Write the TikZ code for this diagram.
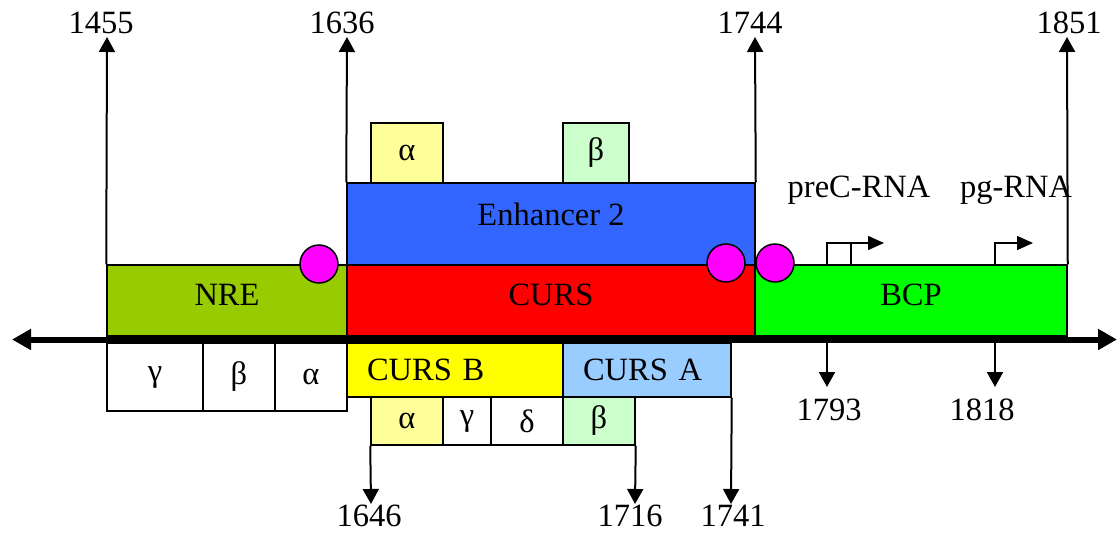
\documentclass[tikz,border=0pt]{standalone}
\usepackage{fontspec}
\setmainfont{Liberation Serif}
\usetikzlibrary{arrows.meta}
\definecolor{nregreen}{HTML}{99CC00}
\definecolor{enhblue}{HTML}{3366FF}
\definecolor{bcpgreen}{HTML}{00FF00}
\definecolor{paleyellow}{HTML}{FFFF99}
\definecolor{palegreen}{HTML}{CCFFCC}
\definecolor{cursbyellow}{HTML}{FFFF00}
\definecolor{cursablue}{HTML}{99CCFF}
\definecolor{sitemagenta}{HTML}{FF00FF}
\tikzset{
  regbox/.style={draw=black, line width=1.5pt, inner sep=0pt, rectangle},
  raised/.style={text height=22pt, text depth=#1},
  lbox/.style={regbox, inner xsep=20pt, align=left},
  site/.style={circle, draw=black, line width=1.5pt, fill=sitemagenta, minimum size=38pt, inner sep=0pt},
  num/.style={inner sep=0pt},
  posarrow/.style={line width=2pt, -{Triangle[length=15pt,width=16pt]}},
  tssarrow/.style={line width=1.5pt, -{Triangle[length=16pt,width=14pt]}},
  dnaaxis/.style={line width=6pt, {Triangle[length=19pt,width=20pt]}-{Triangle[length=19pt,width=20pt]}}
}
\begin{document}
\begin{tikzpicture}[x=1pt,y=-1pt, every node/.style={font=\fontsize{32.5}{38}\selectfont}]
\useasboundingbox (0,0) rectangle (1117,533);

% upper regulatory regions
\node[regbox, raised=12pt, fill=nregreen, minimum width=240pt, minimum height=71pt] (nre) at (227,300.5) {NRE};
\node[regbox, raised=12pt, fill=red, minimum width=408pt, minimum height=71pt] (curs) at (551,300.5) {CURS};
\node[regbox, raised=20pt, fill=enhblue, minimum width=408pt, minimum height=82pt] (enh) at (551,224) {Enhancer 2};
\node[regbox, raised=12pt, fill=bcpgreen, minimum width=312pt, minimum height=71pt] (bcp) at (911,300.5) {BCP};
\node[regbox, fill=paleyellow, minimum width=72pt, minimum height=60pt] (ta) at (407,153) {α};
\node[regbox, fill=palegreen, minimum width=66pt, minimum height=60pt] (tb) at (596,153) {β};

% lower sub-elements
\node[regbox, fill=white, minimum width=96pt, minimum height=68pt] (ng) at (155,377) {γ};
\node[regbox, fill=white, minimum width=72pt, minimum height=68pt] (nb) at (239,377) {β};
\node[regbox, fill=white, minimum width=72pt, minimum height=68pt] (na) at (311,377) {α};
\node[lbox, fill=cursbyellow, text width=176pt, minimum height=54pt] (cursb) at (455,370) {CURS B};
\node[lbox, fill=cursablue, text width=128pt, minimum height=54pt] (cursa) at (647,370) {CURS A};
\node[regbox, fill=paleyellow, minimum width=72pt, minimum height=48pt] (la) at (407,421) {α};
\node[regbox, fill=white, minimum width=48pt, minimum height=48pt] (lg) at (467,421) {γ};
\node[regbox, fill=white, minimum width=72pt, minimum height=48pt] (ld) at (527,421) {δ};
\node[regbox, fill=palegreen, minimum width=72pt, minimum height=48pt] (lb) at (599,421) {β};

% DNA axis
\coordinate (axL) at (12,339.5);
\coordinate (axR) at (1117,339.5);
\draw[dnaaxis] (axL) -- (axR);

% binding sites
\node[site] (s1) at (319,264) {};
\node[site] (s2) at (726,263) {};
\node[site] (s3) at (775,263) {};

% upper position markers
\node[num] (p1455) at (101,23) {1455};
\node[num] (p1636) at (342,23) {1636};
\node[num] (p1744) at (750,23) {1744};
\node[num] (p1851) at (1069,23) {1851};
\coordinate (u1455) at (107,37);
\coordinate (u1636) at (347,37);
\coordinate (u1744) at (755,37);
\coordinate (u1851) at (1067,37);
\draw[posarrow] (nre.north west) -- (u1455);
\draw[posarrow] (enh.north west) -- (u1636);
\draw[posarrow] (enh.north east) -- (u1744);
\draw[posarrow] (bcp.north east) -- (u1851);

% lower position markers
\node[num] (p1646) at (369,516) {1646};
\node[num] (p1716) at (630,516) {1716};
\node[num] (p1741) at (733,516) {1741};
\node[num] (p1793) at (829,410) {1793};
\node[num] (p1818) at (982,410) {1818};
\coordinate (d1646) at (371,504);
\coordinate (d1716) at (635,504);
\coordinate (d1741) at (731,504);
\coordinate (a1793) at (827,342);
\coordinate (a1818) at (995,342);
\coordinate (d1793) at (827,387);
\coordinate (d1818) at (995,387);
\draw[posarrow] (la.south west) -- (d1646);
\draw[posarrow] (lb.south east) -- (d1716);
\draw[posarrow] (cursa.south east) -- (d1741);
\draw[posarrow] (a1793) -- (d1793);
\draw[posarrow] (a1818) -- (d1818);

% transcription start sites
\node[num] (prec) at (859,190) {preC-RNA};
\node[num] (pg) at (1016,190) {pg-RNA};
\coordinate (pc1) at (827,264.5);
\coordinate (pc2) at (851,264.5);
\coordinate (pcT) at (827,243);
\coordinate (pcM) at (851,243);
\coordinate (pcE) at (884,243);
\coordinate (pg1) at (995,264.5);
\coordinate (pgT) at (995,243);
\coordinate (pgE) at (1033,243);
\draw[line width=1.5pt] (pc2) -- (pcM);
\draw[tssarrow] (pc1) -- (pcT) -- (pcE);
\draw[tssarrow] (pg1) -- (pgT) -- (pgE);
\end{tikzpicture}
\end{document}
